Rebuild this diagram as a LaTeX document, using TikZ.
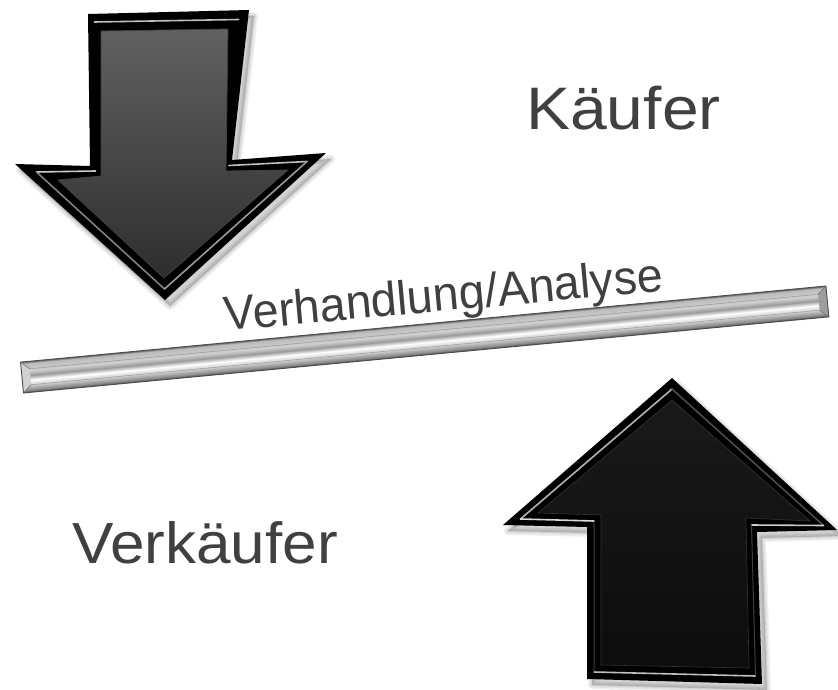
\documentclass[tikz,border=0pt]{standalone}
\usepackage{fontspec}
\setmainfont{Liberation Sans}
\definecolor{txt}{HTML}{404040}
\definecolor{bA}{HTML}{4A4A4A}
\definecolor{bB}{HTML}{8A8A8A}
\definecolor{bC}{HTML}{D0D0D0}
\definecolor{bD}{HTML}{FFFFFF}
\definecolor{bE}{HTML}{9A9A9A}
\definecolor{bF}{HTML}{CFCFCF}
\definecolor{bG}{HTML}{BBBBBB}
\definecolor{bH}{HTML}{666666}
% chrome-like profile across the bar (bottom to top)
\pgfdeclareverticalshading{barshade}{100bp}{color(0bp)=(bA); color(25bp)=(bA); color(29bp)=(bB); color(37.5bp)=(bC); color(45bp)=(bD); color(52.5bp)=(bE); color(60bp)=(bF); color(72bp)=(bG); color(75bp)=(bH); color(100bp)=(bH)}
\tikzset{
  lbl/.style={text=txt, inner sep=0pt, anchor=base},
  hilite/.style={line width=1.6pt, line cap=round, line join=round},
  shadowfill/.style={fill=black, draw=black, opacity=0.06, line join=round},
}
\begin{document}
\begin{tikzpicture}[x=1pt, y=-1pt]
\useasboundingbox (0,0) rectangle (838,690);
\fill[white] (0,0) rectangle (838,690);

% ---- corner points of the downward arrow
\coordinate (d1) at (88,14);   \coordinate (d2) at (249,10);
\coordinate (d3) at (232,160); \coordinate (d4) at (326,153);
\coordinate (d5) at (165,300); \coordinate (d6) at (15,164);
\coordinate (d7) at (90,166);
\coordinate (e1) at (101,31);  \coordinate (e2) at (228,29);
\coordinate (e3) at (226,171); \coordinate (e4) at (288,170);
\coordinate (e5) at (164,278); \coordinate (e6) at (58,180);
\coordinate (e7) at (101,176);
\coordinate (m1) at (94.5,22);  \coordinate (m2) at (238.5,19.5);
\coordinate (m3) at (229,165.5); \coordinate (m4) at (307,161.5);
\coordinate (m5) at (164.5,289); \coordinate (m6) at (36.5,172);
\coordinate (m7) at (95.5,171);

% ---- corner points of the upward arrow
\coordinate (u1) at (672,378); \coordinate (u2) at (837,530);
\coordinate (u3) at (757,532); \coordinate (u4) at (762,684);
\coordinate (u5) at (587,679); \coordinate (u6) at (587,527);
\coordinate (u7) at (503,525);
\coordinate (v1) at (672,400); \coordinate (v2) at (810,521);
\coordinate (v3) at (746,518); \coordinate (v4) at (749,668);
\coordinate (v5) at (601,665); \coordinate (v6) at (601,515);
\coordinate (v7) at (538,513);
\coordinate (w1) at (672,389);   \coordinate (w2) at (823.5,525.5);
\coordinate (w3) at (751.5,525); \coordinate (w4) at (755.5,676);
\coordinate (w5) at (594,672);   \coordinate (w6) at (594,521);
\coordinate (w7) at (520.5,519);

% ---- soft drop shadows
\begin{scope}[transform canvas={shift={(5,6)}}]
  \foreach \w in {8,5,2} {
    \filldraw[shadowfill, line width=\w pt] (d1) -- (d2) -- (d3) -- (d4) -- (d5) -- (d6) -- (d7) -- cycle;
    \filldraw[shadowfill, line width=\w pt] (u1) -- (u2) -- (u3) -- (u4) -- (u5) -- (u6) -- (u7) -- cycle;
  }
\end{scope}

% ---- the chrome bar
\begin{scope}[transform canvas={shift={(424.7,339.5)}, rotate=5.4}]
  \shade[shading=barshade] (-404.5,-15.5) rectangle (404.5,15.5);
  \fill[black!18] (-404.5,-15.5) -- (-396,-8) -- (-396,8) -- (-404.5,15.5) -- cycle;
  \fill[black!38] (404.5,-15.5) -- (396,-8) -- (396,8) -- (404.5,15.5) -- cycle;
  \draw[black!55, line width=0.6pt] (-404.5,-15.5) -- (-396,-8) (-404.5,15.5) -- (-396,8)
        (404.5,-15.5) -- (396,-8) (404.5,15.5) -- (396,8);
  \draw[black!40, line width=0.5pt] (-396,-8) -- (396,-8) (-396,8) -- (396,8);
  \draw[black!70, line width=0.9pt] (-404.5,-15.5) rectangle (404.5,15.5);
\end{scope}

% ---- downward arrow
\fill[black, line join=round] (d1) -- (d2) -- (d3) -- (d4) -- (d5) -- (d6) -- (d7) -- cycle;
\draw[hilite, black!25] (m1) -- (m2);
\draw[hilite, black!20] (m6) -- (m7);
\draw[hilite, black!25] (m3) -- (m4);
\draw[hilite, black!50] (m6) -- (m5);
\draw[hilite, black!40] (m4) -- (m5);
\shade[top color=black!62, bottom color=black!82, draw=black!75, line width=0.8pt, line join=round]
  (e1) -- (e2) -- (e3) -- (e4) -- (e5) -- (e6) -- (e7) -- cycle;

% ---- upward arrow
\fill[black, line join=round] (u1) -- (u2) -- (u3) -- (u4) -- (u5) -- (u6) -- (u7) -- cycle;
\draw[hilite, black!30] (w7) -- (w1);
\draw[hilite, black!70] (w1) -- (w2);
\draw[hilite, black!15] (w7) -- (w6);
\draw[hilite, black!20] (w3) -- (w2);
\draw[hilite, black!25] (w5) -- (w4);
\draw[hilite, black!75, line width=1pt] (w6) -- (w5) (w3) -- (w4);
\shade[top color=black!90, bottom color=black!95, draw=black!80, line width=0.6pt, line join=round]
  (v1) -- (v2) -- (v3) -- (v4) -- (v5) -- (v6) -- (v7) -- cycle;

% ---- labels
\node[lbl, font=\fontsize{60}{72}\selectfont, xscale=1.1] (buyer) at (623.5,130) {Käufer};
\node[lbl, font=\fontsize{58}{70}\selectfont, xscale=1.07] (seller) at (205,563) {Verkäufer};
\node[lbl, font=\fontsize{48}{58}\selectfont, rotate=5.2, xscale=0.97] (talks) at (445,311) {Verhandlung/Analyse};
\end{tikzpicture}
\end{document}
